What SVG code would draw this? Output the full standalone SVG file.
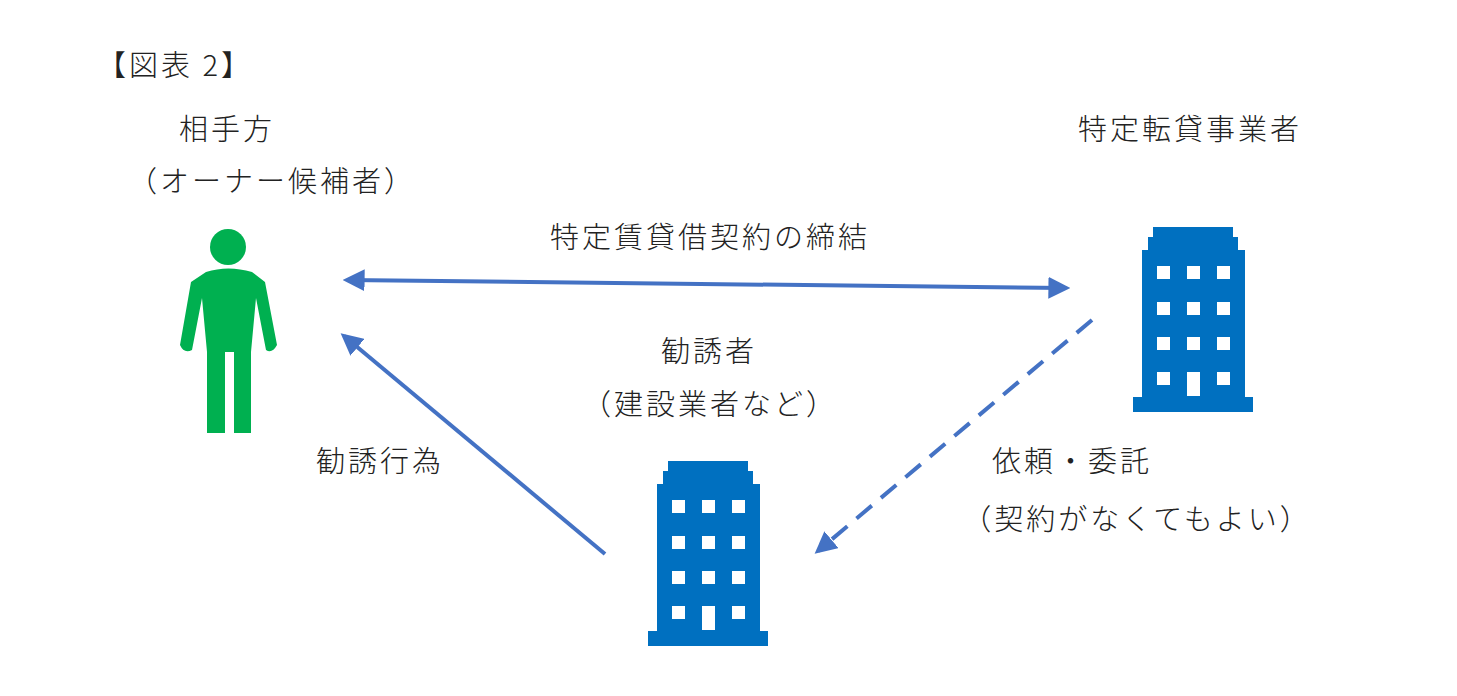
<svg xmlns="http://www.w3.org/2000/svg" width="1457" height="696" viewBox="0 0 1457 696">
<defs>
<style>
text{font-family:"Noto Sans CJK JP","Liberation Serif",serif;font-size:29px;letter-spacing:3px;font-weight:300;fill:#222}
.c{stroke:#4472C4;stroke-width:4;fill:none}
.b{fill:#0070C0}
.w{fill:#fff}
</style>
<marker id="ah" viewBox="0 0 10 10" refX="8" refY="5" markerWidth="5.5" markerHeight="5.5" orient="auto-start-reverse"><path d="M0,0L10,5L0,10z" fill="#4472C4"/></marker>
<g id="bld">
<path class="b" d="M1153,227H1233V237H1238V250H1245V397H1253V412H1133V397H1142V250H1148V237H1153Z"/>
<g class="w">
<rect x="1157" y="266" width="13" height="13"/><rect x="1187" y="266" width="13" height="13"/><rect x="1217" y="266" width="13" height="13"/>
<rect x="1157" y="302" width="13" height="13"/><rect x="1187" y="302" width="13" height="13"/><rect x="1217" y="302" width="13" height="13"/>
<rect x="1157" y="337" width="13" height="13"/><rect x="1187" y="337" width="13" height="13"/><rect x="1217" y="337" width="13" height="13"/>
<rect x="1157" y="372" width="13" height="13"/><rect x="1187" y="372" width="13" height="24"/><rect x="1217" y="372" width="13" height="13"/>
</g>
</g>
</defs>
<rect width="1457" height="696" fill="#fff"/>
<text x="97" y="76" font-size="32" letter-spacing="1">【図表 2】</text>
<g id="person">
<circle cx="228" cy="247" r="18" fill="#00B050"/>
<path fill="#00B050" d="M206,272Q228,265 252,272L265,282L277,345Q272,354 266,350L256,298L251,352V433H234V352H225V433H207V352L202,298L192,350Q184,354 180,345L191,282Z"/>
<text x="227" y="140" text-anchor="middle">相手方</text>
<text x="272" y="192" text-anchor="middle">（オーナー候補者）</text>
</g>
<g id="tenko">
<use href="#bld"/>
<text x="1190" y="140" text-anchor="middle">特定転貸事業者</text>
</g>
<g id="kanyu">
<use href="#bld" transform="translate(-485,234)"/>
<text x="709" y="362" text-anchor="middle">勧誘者</text>
<text x="710" y="415" text-anchor="middle">（建設業者など）</text>
</g>
<g id="connectors">
<line class="c" x1="347" y1="280" x2="1066" y2="288" marker-start="url(#ah)" marker-end="url(#ah)"/>
<line class="c" x1="605" y1="554" x2="344" y2="336" marker-end="url(#ah)"/>
<line class="c" x1="1092" y1="320" x2="818" y2="551" stroke-dasharray="20,12" marker-end="url(#ah)"/>
<text x="710" y="248" text-anchor="middle">特定賃貸借契約の締結</text>
<text x="380" y="472" text-anchor="middle">勧誘行為</text>
<text x="1072" y="472" text-anchor="middle">依頼・委託</text>
<text x="1137" y="530" text-anchor="middle">（契約がなくてもよい）</text>
</g>
</svg>
